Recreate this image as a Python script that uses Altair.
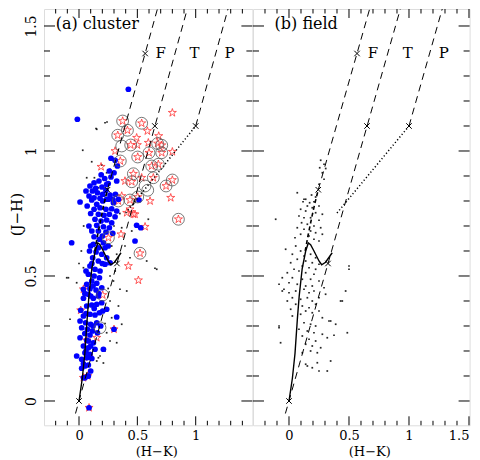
import altair as alt
import pandas as pd

FONT = "DejaVu Serif"
H = 416.3
W_A, W_B = 208.4, 216.6
Y_DOM = [-0.0972, 1.568]
XA_DOM = [-0.3, 1.486]
XB_DOM = [-0.3, 1.505]

# ---------------- panel (a) cluster : (H-K, J-H) ----------------
a_blue = [
    (-0.014, 1.127), (0.423, 1.247),
    (0.309, 0.963), (0.274, 0.971), (0.329, 0.94), (0.26, 0.92), (0.30, 0.913), (0.274, 0.896),
    (0.323, 0.88), (0.129, 0.873), (0.171, 0.88), (0.094, 0.86), (0.143, 0.851), (0.197, 0.856),
    (0.237, 0.867), (0.115, 0.84), (0.158, 0.833), (0.203, 0.827), (0.231, 0.843), (0.266, 0.824),
    (0.312, 0.827), (0.086, 0.82), (0.129, 0.813), (0.18, 0.811), (0.237, 0.807), (0.289, 0.807),
    (0.009, 0.796), (0.109, 0.804), (0.152, 0.787), (0.203, 0.80), (0.252, 0.807), (0.295, 0.793),
    (0.338, 0.807), (0.129, 0.767), (0.18, 0.773), (0.231, 0.767), (0.28, 0.769), (0.323, 0.76),
    (0.166, 0.747), (0.214, 0.743), (0.26, 0.747), (0.309, 0.737), (0.137, 0.727), (0.189, 0.72),
    (0.237, 0.724), (0.28, 0.713), (0.152, 0.703), (0.209, 0.697), (0.26, 0.693), (0.166, 0.68),
    (0.231, 0.676), (0.289, 0.671), (-0.063, 0.633), (0.129, 0.657), (0.175, 0.647), (0.209, 0.633),
    (0.123, 0.627), (0.166, 0.613), (0.223, 0.613), (0.146, 0.596), (0.195, 0.587), (0.237, 0.573),
    (0.117, 0.573), (0.166, 0.56), (0.266, 0.553), (0.223, 0.547), (0.094, 0.54), (0.137, 0.527),
    (0.18, 0.52), (0.08, 0.507), (0.129, 0.50), (0.175, 0.493), (0.109, 0.48), (0.066, 0.467),
    (0.152, 0.471), (0.094, 0.449), (0.146, 0.444), (0.195, 0.453), (0.48, 0.64), (0.494, 0.703),
    (0.529, 0.693), (0.514, 0.804),
    (0.08, 0.427), (0.123, 0.411), (0.166, 0.42), (0.038, 0.411), (0.066, 0.38), (0.109, 0.384),
    (0.152, 0.387), (0.195, 0.393), (0.237, 0.367), (0.203, 0.36), (0.038, 0.34), (0.094, 0.347),
    (0.137, 0.344), (0.175, 0.353), (0.009, 0.32), (0.057, 0.313), (0.10, 0.307), (0.152, 0.313),
    (0.186, 0.30), (0.323, 0.336), (0.023, 0.293), (0.072, 0.287), (0.115, 0.28), (0.158, 0.273),
    (0.094, 0.264), (0.009, 0.253), (0.08, 0.24), (0.123, 0.233), (0.038, 0.22), (0.08, 0.213),
    (0.137, 0.207), (0.209, 0.207), (0.051, 0.193), (0.094, 0.187), (-0.02, 0.18), (0.023, 0.167),
    (0.066, 0.173), (0.038, 0.149), (0.08, 0.144), (0.023, 0.131), (0.051, 0.093), (0.08, 0.10),
    (0.086, -0.027), (0.038, 0.447), (0.015, 0.363), (0.30, 0.287), (0.066, 0.243), (0.086, 0.176),
    (0.038, 0.093), (0.075, 0.10),
    (0.06, 0.84), (0.07, 0.78), (0.10, 0.75), (0.085, 0.70), (0.11, 0.68), (0.19, 0.905),
    (0.22, 0.89), (0.25, 0.87), (0.10, 0.62), (0.09, 0.60), (0.20, 0.66), (0.25, 0.62),
    (0.20, 0.55), (0.11, 0.55), (0.06, 0.52), (0.12, 0.46), (0.17, 0.43), (0.05, 0.43),
    (0.10, 0.42), (0.13, 0.37), (0.06, 0.35), (0.12, 0.30), (0.05, 0.27), (0.10, 0.22),
    (0.06, 0.20), (0.11, 0.17), (0.05, 0.14), (0.10, 0.12),
]
a_black = [
    (0.24, 1.116), (0.146, 1.09), (0.032, 1.003), (0.223, 1.113), (0.152, 1.087), (0.266, 0.927),
    (0.132, 0.893), (0.166, 0.853), (0.22, 0.82), (0.109, 0.957), (0.195, 0.944), (0.237, 0.913),
    (0.066, 0.893), (-0.091, 0.493), (0.094, 0.687), (0.366, 0.693), (0.394, 0.62), (0.437, 0.573),
    (0.323, 0.587), (0.295, 0.48), (-0.02, 0.473), (0.351, 0.447), (0.038, 0.533), (0.266, 0.50),
    (-0.077, 0.327), (0.338, 0.38), (0.366, 0.307), (0.323, 0.233), (0.266, 0.24), (0.237, 0.273),
    (0.223, 0.31), (0.18, 0.18), (0.152, 0.16), (0.209, 0.152), (0.28, 0.333), (0.266, 0.40),
    (-0.105, 0.493), (0.666, 0.527), (0.58, 0.56), (0.223, 0.20), (0.166, 0.173), (0.594, 0.727),
    (0.651, 0.531), (0.409, 0.44), (0.452, 0.68), (0.02, 0.60), (0.04, 0.70), (0.0, 0.55),
    (0.30, 0.70), (0.35, 0.75), (0.28, 0.62), (0.31, 0.52), (0.25, 0.45),
]
a_star = [
    (0.374, 1.12), (0.537, 1.111), (0.80, 1.153), (0.415, 1.083), (0.332, 1.063), (0.586, 1.08),
    (0.494, 1.053), (0.683, 1.06), (0.443, 1.024), (0.50, 1.024), (0.674, 1.03), (0.709, 1.023),
    (0.594, 1.033), (0.309, 1.0), (0.60, 0.993), (0.709, 0.993), (0.80, 0.997), (0.503, 0.976),
    (0.354, 0.96), (0.189, 0.937), (0.623, 0.94), (0.68, 0.947), (0.466, 0.909), (0.637, 0.893),
    (0.537, 0.893), (0.394, 0.88), (0.452, 0.877), (0.80, 0.884), (0.746, 0.86), (0.366, 0.82),
    (0.337, 0.80), (0.437, 0.804), (0.503, 0.816), (0.609, 0.80), (0.786, 0.813), (0.437, 0.767),
    (0.852, 0.727), (0.466, 0.747), (0.566, 0.697), (0.36, 0.667), (0.252, 0.653), (0.523, 0.591),
    (0.423, 0.54), (0.509, 0.483), (0.203, 0.424), (0.152, 0.253), (0.30, 0.287), (0.038, 0.447),
    (0.015, 0.363), (0.066, 0.243), (0.086, 0.176), (0.038, 0.093), (0.075, 0.10), (0.086, -0.027),
    (0.409, 0.753), (0.48, 0.747),
]
a_circle = [
    (0.374, 1.12), (0.537, 1.111), (0.415, 1.083), (0.332, 1.063), (0.443, 1.024), (0.674, 1.03),
    (0.709, 1.023), (0.60, 0.993), (0.709, 0.993), (0.503, 0.976), (0.354, 0.96), (0.623, 0.94),
    (0.68, 0.947), (0.466, 0.909), (0.637, 0.893), (0.452, 0.877), (0.80, 0.884), (0.746, 0.86),
    (0.337, 0.80), (0.437, 0.804), (0.503, 0.816), (0.852, 0.727), (0.252, 0.653), (0.523, 0.591),
    (0.203, 0.424), (0.366, 1.02), (0.566, 0.86), (0.589, 0.843), (0.18, 0.293),
]

# ---------------- panel (b) field ----------------
b_black = [
    (0.292, 0.887), (0.25, 0.867), (0.069, 0.833), (0.188, 0.824), (0.222, 0.816), (0.139, 0.807),
    (0.117, 0.797), (0.172, 0.793), (0.208, 0.797), (0.153, 0.78), (0.194, 0.773), (0.25, 0.78),
    (0.097, 0.767), (0.139, 0.76), (0.222, 0.753), (0.278, 0.747), (0.083, 0.74), (0.125, 0.733),
    (0.18, 0.733), (0.25, 0.723), (-0.111, 0.727), (0.105, 0.713), (0.153, 0.707), (0.208, 0.70),
    (0.264, 0.693), (0.069, 0.693), (0.125, 0.687), (0.18, 0.68), (0.222, 0.673), (0.278, 0.667),
    (0.097, 0.667), (0.05, 0.653), (0.167, 0.66), (0.208, 0.647), (0.25, 0.64), (-0.028, 0.607),
    (0.056, 0.62), (0.097, 0.60), (0.028, 0.587), (0.125, 0.58), (0.18, 0.587), (0.222, 0.573),
    (0.069, 0.567), (0.139, 0.56), (0.194, 0.553), (0.25, 0.547), (0.014, 0.553), (0.111, 0.54),
    (0.167, 0.533), (0.222, 0.527), (0.042, 0.527), (0.083, 0.52), (-0.014, 0.513), (0.139, 0.513),
    (0.208, 0.507), (-0.056, 0.493), (0.028, 0.493), (0.111, 0.487), (0.18, 0.487), (0.25, 0.48),
    (0.0, 0.473), (0.069, 0.467), (0.139, 0.46), (-0.083, 0.467), (0.194, 0.46), (-0.042, 0.447),
    (0.292, 0.453), (0.50, 0.54),
    (-0.056, 0.44), (0.0, 0.433), (0.056, 0.44), (0.125, 0.447), (0.167, 0.433), (0.208, 0.44),
    (0.028, 0.413), (0.097, 0.407), (0.153, 0.413), (0.194, 0.40), (-0.014, 0.40), (0.25, 0.413),
    (0.305, 0.427), (0.43, 0.40), (0.056, 0.387), (0.111, 0.38), (0.167, 0.373), (0.222, 0.387),
    (0.014, 0.367), (0.139, 0.36), (0.194, 0.353), (0.25, 0.36), (0.097, 0.347), (0.028, 0.34),
    (0.278, 0.333), (0.347, 0.32), (0.389, 0.307), (-0.083, 0.293), (0.125, 0.313), (0.18, 0.307),
    (0.222, 0.30), (0.083, 0.287), (0.153, 0.28), (0.208, 0.273), (0.278, 0.267), (0.486, 0.273),
    (0.375, 0.263), (0.319, 0.253), (0.111, 0.26), (0.167, 0.247), (0.222, 0.24), (-0.07, 0.233),
    (0.139, 0.227), (0.194, 0.22), (0.264, 0.213), (0.18, 0.20), (0.236, 0.193), (0.111, 0.193),
    (0.347, 0.16), (0.139, 0.147), (0.194, 0.133), (0.236, 0.153), (0.25, 0.12), (0.319, 0.12),
    (0.264, 0.963), (0.292, 0.947), (0.256, 0.933), (0.306, 0.93), (0.278, 0.913), (0.125, 0.807),
    (0.50, 0.527), (0.472, 0.44), (-0.083, 0.30), (0.333, 0.32), (0.444, 0.40), (0.153, 0.14),
]

# ---------------- loci (same in both panels) ----------------
dwarf_hk = [0.0, 0.028, 0.05, 0.07, 0.085, 0.11, 0.139, 0.161, 0.18, 0.208, 0.25, 0.272, 0.305, 0.36]
dwarf_jh = [0.0, 0.09, 0.19, 0.33, 0.42, 0.53, 0.60, 0.632, 0.625, 0.60, 0.56, 0.545, 0.555, 0.593]
giant_hk = [0.135, 0.16, 0.19, 0.215, 0.244]
giant_jh = [0.60, 0.665, 0.735, 0.79, 0.845]
redd_name = ["F", "F", "T", "T", "P", "P"]
redd_hk = [0.244, 0.75, -0.03, 1.006, 1.0, 1.355]
redd_jh = [0.845, 1.70, -0.05, 1.70, 1.10, 1.70]
ctts_hk = [0.40, 1.0]
ctts_jh = [0.752, 1.10]
cross_hk = [0.244, 0.567, 0.0, 0.325, 0.65, 1.0]
cross_jh = [0.845, 1.39, 0.0, 0.55, 1.10, 1.10]
vec_labels = ["F", "T", "P"]
vec_label_hk = [0.70, 0.99, 1.29]
vec_label_jh = [1.393, 1.393, 1.393]

x_major_a = [0.0, 0.5, 1.0]
x_major_b = [0.0, 0.5, 1.0, 1.5]
x_minor = [-0.2, -0.1, 0.1, 0.2, 0.3, 0.4, 0.6, 0.7, 0.8, 0.9, 1.1, 1.2, 1.3, 1.4]
y_major = [0.0, 0.5, 1.0, 1.5]
y_minor = [0.1, 0.2, 0.3, 0.4, 0.6, 0.7, 0.8, 0.9, 1.1, 1.2, 1.3, 1.4]

STAR = ("M0,-1L0.223,-0.307L0.951,-0.309L0.361,0.117L0.588,0.809L0,0.38"
        "L-0.588,0.809L-0.361,0.117L-0.951,-0.309L-0.223,-0.307Z")
XMARK = "M-1,-1L1,1M-1,1L1,-1"


def pts(pairs):
    return pd.DataFrame(pairs, columns=["hk", "jh"])


def panel(width, xdom, xlabels, show_y, blue, black, stars, circles, label, label_hk):
    xs = alt.Scale(domain=xdom, nice=False, zero=False)
    ys = alt.Scale(domain=Y_DOM, nice=False, zero=False)
    xaxis = alt.Axis(values=xlabels, format="~g", ticks=False, tickSize=0, domain=False, grid=False,
                     labelFont=FONT, labelFontSize=13, labelColor="black", labelPadding=10,
                     labelBaseline="middle", title="(H−K)", titleFont=FONT, titleFontSize=13,
                     titleFontWeight="normal", titleColor="black", titleX=width / 2 + 8, titleY=26.5,
                     titleBaseline="middle", titleAlign="center")
    if show_y:
        yaxis = alt.Axis(values=y_major, format="~g", ticks=False, tickSize=0, domain=False, grid=False,
                         labelFont=FONT, labelFontSize=14, labelColor="black", labelAngle=270,
                         labelAlign="center", labelBaseline="middle", labelPadding=13,
                         title="(J−H)", titleFont=FONT, titleFontSize=15, titleFontWeight="normal",
                         titleColor="black", titleX=-19.7, titleY=H / 2 - 3, titleAngle=270,
                         titleBaseline="bottom", titleAlign="center")
    else:
        yaxis = None

    def X(f):
        return alt.X(f, type="quantitative", scale=xs, axis=xaxis)

    def Y(f):
        return alt.Y(f, type="quantitative", scale=ys, axis=yaxis)

    layers = []
    layers.append(alt.Chart(pts(black)).mark_square(size=3, color="black", opacity=0.85)
                  .encode(x=X("hk"), y=Y("jh")))
    if stars:
        layers.append(alt.Chart(pts(stars)).mark_point(shape=STAR, size=72, filled=False, color="#ff3333",
                                                       strokeWidth=0.8, opacity=1)
                      .encode(x=X("hk"), y=Y("jh")))
    if blue:
        layers.append(alt.Chart(pts(blue)).mark_circle(size=33, color="#0000ff", opacity=1)
                      .encode(x=X("hk"), y=Y("jh")))
    if circles:
        layers.append(alt.Chart(pts(circles)).mark_point(shape="circle", size=140, filled=False,
                                                         color="#555555", strokeWidth=0.8, opacity=1)
                      .encode(x=X("hk"), y=Y("jh")))
    dwarf = pd.DataFrame({"hk": dwarf_hk, "jh": dwarf_jh, "i": range(len(dwarf_hk))})
    layers.append(alt.Chart(dwarf).mark_line(color="black", strokeWidth=1.4, clip=True)
                  .encode(x=X("hk"), y=Y("jh"), order="i:Q"))
    giant = pd.DataFrame({"hk": giant_hk, "jh": giant_jh, "i": range(len(giant_hk))})
    layers.append(alt.Chart(giant).mark_line(color="black", strokeWidth=1.6, strokeDash=[4, 3], clip=True)
                  .encode(x=X("hk"), y=Y("jh"), order="i:Q"))
    redd = pd.DataFrame({"name": redd_name, "hk": redd_hk, "jh": redd_jh, "i": range(len(redd_hk))})
    layers.append(alt.Chart(redd).mark_line(color="black", strokeWidth=1, strokeDash=[7, 5], clip=True)
                  .encode(x=X("hk"), y=Y("jh"), detail="name:N", order="i:Q"))
    ctts = pd.DataFrame({"hk": ctts_hk, "jh": ctts_jh})
    layers.append(alt.Chart(ctts).mark_line(color="black", strokeWidth=1.5, strokeDash=[1.2, 2.3], clip=True)
                  .encode(x=X("hk"), y=Y("jh")))
    cross = pd.DataFrame({"hk": cross_hk, "jh": cross_jh})
    layers.append(alt.Chart(cross).mark_point(shape=XMARK, size=30, filled=False, color="black",
                                              strokeWidth=1, opacity=1)
                  .encode(x=X("hk"), y=Y("jh")))
    vl = pd.DataFrame({"t": vec_labels, "hk": vec_label_hk, "jh": vec_label_jh})
    layers.append(alt.Chart(vl).mark_text(font=FONT, fontSize=15, color="black", align="center",
                                          baseline="middle")
                  .encode(x=X("hk"), y=Y("jh"), text="t:N"))
    lab = pd.DataFrame({"t": [label], "hk": [label_hk], "jh": [1.507]})
    layers.append(alt.Chart(lab).mark_text(font=FONT, fontSize=16, color="black", align="left",
                                           baseline="middle")
                  .encode(x=X("hk"), y=Y("jh"), text="t:N"))

    # inward ticks on all four sides
    for vals, ln in [(xlabels, 9), (x_minor, 4.5)]:
        base = alt.Chart(pd.DataFrame({"v": vals})).mark_rule(color="black", strokeWidth=1)
        layers.append(base.encode(x=X("v"), y=alt.value(H), y2=alt.value(H - ln)))
        layers.append(base.encode(x=X("v"), y=alt.value(0), y2=alt.value(ln)))
    for vals, ln in [(y_major, 11), (y_minor, 6)]:
        base = alt.Chart(pd.DataFrame({"v": vals})).mark_rule(color="black", strokeWidth=1)
        layers.append(base.encode(y=Y("v"), x=alt.value(0), x2=alt.value(ln)))
        layers.append(base.encode(y=Y("v"), x=alt.value(width), x2=alt.value(width - ln)))

    return alt.layer(*layers).properties(width=width, height=H)


pa = panel(W_A, XA_DOM, x_major_a, True, a_blue, a_black, a_star, a_circle, "(a) cluster", -0.2)
pb = panel(W_B, XB_DOM, x_major_b, False, None, b_black, None, None, "(b) field", -0.12)

chart = (alt.hconcat(pa, pb, spacing=0, bounds="flush", padding=0)
         .configure_view(stroke="black", strokeWidth=1, fill="white")
         .configure(background="white"))

chart.save("out.html", embed_options={"renderer": "svg", "actions": False})
